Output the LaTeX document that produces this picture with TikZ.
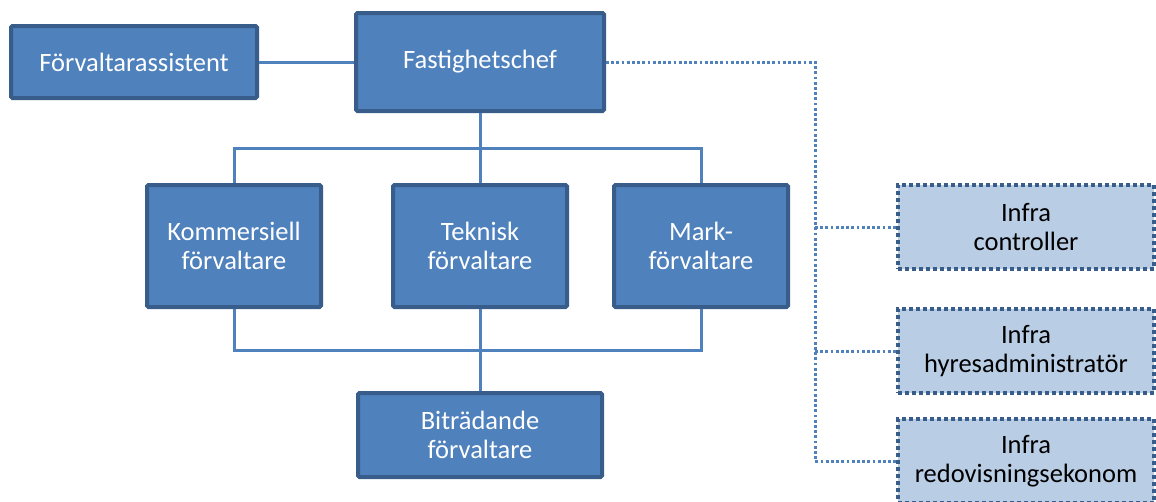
\documentclass[tikz,border=0pt]{standalone}
\usepackage{fontspec}
\setmainfont{Carlito}
\definecolor{boxfill}{HTML}{4F81BD}
\definecolor{boxline}{HTML}{385D8A}
\definecolor{infrafill}{HTML}{B9CDE5}
\begin{document}
\begin{tikzpicture}[x=1pt,y=-1pt,
  mainbox/.style={draw=boxline, fill=boxfill, line width=4pt, rounded corners=1.5pt,
    text=white, align=center, inner sep=0pt, font=\fontsize{26.5}{29}\selectfont},
  infrabox/.style={draw=boxline, fill=infrafill, line width=4pt, dash pattern=on 4pt off 3pt,
    text=black, align=center, inner sep=0pt, minimum width=256pt, minimum height=84pt,
    font=\fontsize{26.5}{29}\selectfont},
  conn/.style={draw=boxfill, line width=3pt},
  dotconn/.style={draw=boxfill, line width=3pt, dash pattern=on 2.8pt off 2.4pt}
]
\useasboundingbox (0,0) rectangle (1156,501);
% main boxes
\node[mainbox, minimum width=246pt, minimum height=72pt] (fa) at (134,62) {Förvaltarassistent};
\node[mainbox, minimum width=248pt, minimum height=98pt] (fc) at (480,62) {Fastighetschef};
\node[mainbox, minimum width=174pt, minimum height=122pt] (ko) at (234,246) {Kommersiell\\förvaltare};
\node[mainbox, minimum width=174pt, minimum height=122pt] (te) at (480,246) {Teknisk\\förvaltare};
\node[mainbox, minimum width=174pt, minimum height=122pt] (ma) at (701,246) {Mark-\\förvaltare};
\node[mainbox, minimum width=244pt, minimum height=84pt] (bi) at (480,435) {Biträdande\\förvaltare};
% infra boxes
\node[infrabox] (ic) at (1026,227) {Infra\\controller};
\node[infrabox] (ih) at (1026,351) {Infra\\hyresadministratör};
\node[infrabox] (ir) at (1026,461) {Infra\\redovisningsekonom};
% solid connectors
\coordinate (top) at (480,148);
\coordinate (bot) at (480,350);
\draw[conn] (fa.east) -- (fc.west);
\draw[conn] (fc.south) -- (te.north);
\draw[conn] (ko.north) |- (top) -| (ma.north);
\draw[conn] (ko.south) |- (bot) -| (ma.south);
\draw[conn] (te.south) -- (bi.north);
% dotted connectors
\coordinate (dv) at (815,62);
\draw[dotconn] (fc.east) -- (dv) |- (ir.west);
\draw[dotconn] (dv |- ic.west) -- (ic.west);
\draw[dotconn] (dv |- ih.west) -- (ih.west);
\end{tikzpicture}
\end{document}
